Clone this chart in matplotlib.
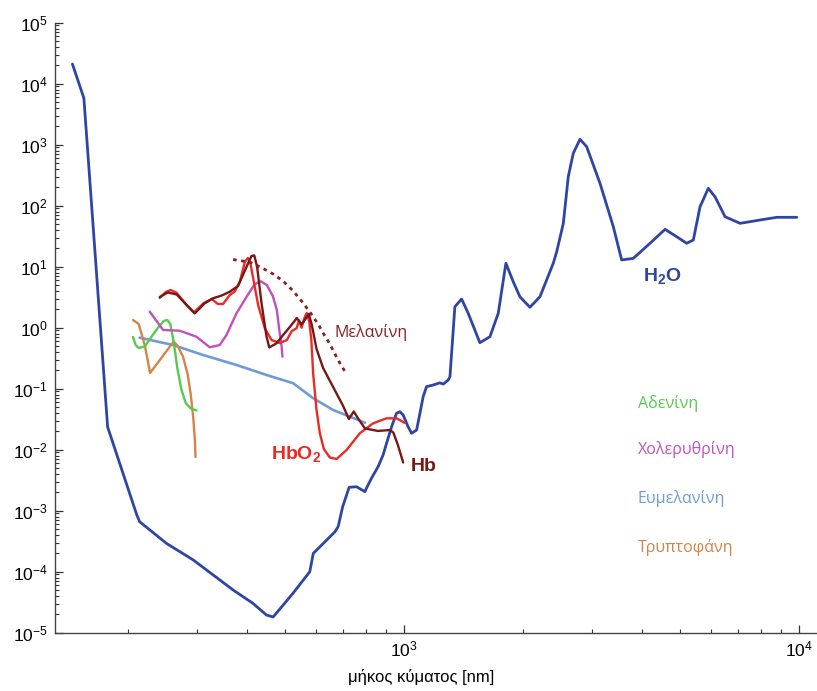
import matplotlib.pyplot as plt
import matplotlib.ticker as ticker

plt.rcParams['font.family'] = ['Liberation Sans', 'DejaVu Sans']
plt.rcParams['mathtext.fontset'] = 'custom'
plt.rcParams['mathtext.rm'] = 'Liberation Sans'
plt.rcParams['mathtext.bf'] = 'Liberation Sans:bold'
plt.rcParams['lines.solid_joinstyle'] = 'round'
plt.rcParams['lines.solid_capstyle'] = 'round'

# wavelength in nm, absorption coefficient (log-log)
water_wl = [145, 155, 178, 211, 214.5, 251, 293, 370, 415, 449, 467, 524, 578, 590,
            669, 682, 700, 727, 759, 797, 804, 828, 861, 886, 904, 931, 958, 977, 996,
            1025, 1046, 1077, 1098, 1119, 1141, 1187, 1233, 1258, 1295, 1308, 1346,
            1400, 1455, 1557, 1651, 1733, 1812, 1891, 1966, 2084, 2210, 2388, 2436,
            2532, 2606, 2683, 2790, 2901, 3135, 3388, 3557, 3806, 4196, 4580, 4902,
            5196, 5400, 5616, 5893, 6128, 6496, 7090, 7966, 8781, 9867]
water_mu = [2.1e4, 5800, 0.0236, 8.5e-4, 6.6e-4, 2.9e-4, 1.56e-4, 5.0e-5, 3.03e-5,
            1.95e-5, 1.81e-5, 4.42e-5, 1.0e-4, 2.0e-4, 4.5e-4, 5.5e-4, 1.16e-3,
            2.42e-3, 2.47e-3, 2.05e-3, 2.33e-3, 3.4e-3, 5.3e-3, 8.2e-3, 0.0127,
            0.0238, 0.0395, 0.042, 0.037, 0.0238, 0.0186, 0.021, 0.0395, 0.074,
            0.108, 0.115, 0.125, 0.119, 0.139, 0.157, 2.21, 2.95, 1.72, 0.568,
            0.711, 1.72, 11.4, 5.68, 3.22, 2.16, 3.22, 11.4, 17.6, 51.4, 299, 723,
            1227, 927, 233, 45.3, 12.9, 13.7, 24.2, 41.0, 31.0, 24.2, 27.4, 96.3,
            193, 140, 66, 51.4, 58.3, 64.5, 64.5]

hbo2_wl = [241.2, 249.8, 257.1, 266.3, 281.8, 294, 311.6, 326.6, 338.2, 348.8, 362.7,
           373.4, 384.5, 395.9, 402.9, 408.8, 415.5, 427.8, 444.8, 462.5, 485.4,
           505.6, 520.6, 535.1, 543.2, 550.8, 561.5, 568, 576.5, 583.3, 589.4,
           601.2, 612.9, 627.3, 649.6, 675.5, 716, 773.8, 836, 904, 958, 1006]
hbo2_mu = [3.07, 3.85, 4.15, 3.71, 2.36, 1.77, 2.54, 2.95, 2.45, 2.45, 3.44, 3.92,
           5.68, 11.9, 13.9, 11.5, 6.53, 2.36, 0.978, 0.629, 0.561, 0.629, 0.883,
           0.978, 1.31, 1.0, 1.50, 1.74, 1.24, 0.629, 0.179, 0.0448, 0.0186, 0.0103,
           0.00745, 0.00704, 0.00989, 0.0186, 0.0271, 0.0327, 0.0327, 0.0274]

hb_wl = [241.2, 252.7, 266.3, 279, 295.8, 313.4, 328.5, 346, 362.7, 380.6, 399.7,
         411.6, 418.3, 425.3, 436.3, 449, 456.4, 476.1, 494.9, 519.6, 535.9, 550.8,
         561.5, 574.8, 584.9, 601.2, 624.8, 662.2, 702.1, 725.6, 747, 764.6, 797,
         859.6, 921.7, 940.6, 966, 996]
hb_mu = [3.19, 3.78, 3.50, 2.54, 1.72, 2.51, 3.03, 3.37, 3.89, 4.83, 9.89, 15.0,
         15.3, 9.89, 2.54, 0.731, 0.474, 0.555, 0.759, 1.11, 1.44, 1.13, 1.34, 1.68,
         1.11, 0.448, 0.218, 0.1066, 0.052, 0.0319, 0.0423, 0.0331, 0.0223, 0.0203,
         0.0210, 0.0191, 0.0119, 0.00617]

melanin_wl = [369.7, 407.5, 440.4, 466.9, 494.9, 524.5, 550.8, 578, 606.7, 631,
              649.6, 675.5, 692.7, 711]
melanin_mu = [13.1, 11.9, 9.34, 7.59, 5.83, 4.0, 2.74, 1.81, 1.15, 0.731, 0.541,
              0.331, 0.245, 0.188]

bilirubin_wl = [227.5, 245.9, 271, 298.7, 322.8, 342, 355.7, 377.1, 399.7, 419.6,
                434.5, 450, 466, 477, 484, 490, 493]
bilirubin_mu = [1.83, 0.917, 0.893, 0.711, 0.477, 0.52, 0.759, 1.72, 3.19, 5.2,
                5.76, 5.01, 3.31, 1.95, 0.917, 0.52, 0.335]

adenine_wl = [206.4, 209.6, 213.3, 221, 229.8, 238.4, 246.9, 252, 256.4, 260.2,
              263.3, 267.1, 273.7, 280.6, 289, 298.7]
adenine_mu = [0.704, 0.52, 0.465, 0.492, 0.711, 0.99, 1.29, 1.34, 1.15, 0.704,
              0.431, 0.218, 0.0952, 0.0583, 0.0474, 0.0439]

eumelanin_wl = [214.5, 260.7, 310.4, 377.1, 449, 524.5, 590, 662, 730, 797]
eumelanin_mu = [0.686, 0.52, 0.357, 0.245, 0.168, 0.123, 0.0696, 0.0448, 0.0348, 0.0277]

tryptophan_wl = [206.4, 213.3, 221, 228, 261.6, 267.7, 276.2, 284, 289, 293, 296, 297]
tryptophan_mu = [1.34, 1.15, 0.52, 0.181, 0.594, 0.501, 0.335, 0.168, 0.0788,
                 0.0348, 0.0144, 0.0076]

c_water = '#2f45a5'
c_hbo2 = '#ec2a25'
c_hb = '#781815'
c_melanin = '#8a1f1f'
c_bili = '#c150bf'
c_aden = '#58c94e'
c_eumel = '#6e9bd6'
c_tryp = '#d4844b'

fig = plt.figure(figsize=(8.17, 6.91), dpi=100)
ax = fig.add_axes([55 / 817, 58.3 / 691, 762 / 817, 610 / 691])

ax.plot(water_wl, water_mu, color=c_water, lw=2.0)
ax.plot(eumelanin_wl, eumelanin_mu, color=c_eumel, lw=1.9)
ax.plot(tryptophan_wl, tryptophan_mu, color=c_tryp, lw=1.7)
ax.plot(adenine_wl, adenine_mu, color=c_aden, lw=1.7)
ax.plot(bilirubin_wl, bilirubin_mu, color=c_bili, lw=1.7)
ax.plot(hbo2_wl, hbo2_mu, color=c_hbo2, lw=1.7)
ax.plot(hb_wl, hb_mu, color=c_hb, lw=1.7)
ax.plot(melanin_wl, melanin_mu, color=c_melanin, lw=2.0, linestyle=(0, (1.3, 1.6)),
        dash_capstyle='butt')

ax.set_xscale('log')
ax.set_yscale('log')
ax.set_xlim(131, 11100)
ax.set_ylim(1e-5, 1e5)

# only left and bottom axis lines
for s in ['top', 'right']:
    ax.spines[s].set_visible(False)
for s in ['left', 'bottom']:
    ax.spines[s].set_color('#444444')
    ax.spines[s].set_linewidth(1.0)

ax.yaxis.set_major_locator(ticker.LogLocator(base=10, numticks=15))
ax.yaxis.set_minor_locator(ticker.LogLocator(base=10, subs=range(2, 10), numticks=15))
ax.yaxis.set_minor_formatter(ticker.NullFormatter())
ax.xaxis.set_minor_formatter(ticker.NullFormatter())
ax.tick_params(which='major', direction='in', length=6, width=0.9, color='#333333',
               labelsize=12.5, pad=5)
ax.tick_params(which='minor', direction='in', length=3.2, width=0.8, color='#333333')

ax.set_xlabel('μήκος κύματος [nm]', fontsize=12)
ax.xaxis.set_label_coords(0.48, -0.06)

ax.text(4500, 6.8, r'H$_\mathbf{2}$O', color=c_water, fontsize=14, fontweight='bold',
        ha='center', va='center')
ax.text(825, 0.82, 'Μελανίνη', color=c_melanin, fontsize=11.5,
        family=['Open Sans', 'DejaVu Sans'], ha='center', va='center')
ax.text(533, 0.0082, r'HbO$_\mathbf{2}$', color=c_hbo2, fontsize=14, fontweight='bold',
        ha='center', va='center')
ax.text(1124, 0.0054, 'Hb', color=c_hb, fontsize=14, fontweight='bold',
        ha='center', va='center')

names = ['Αδενίνη', 'Χολερυθρίνη', 'Ευμελανίνη', 'Τρυπτοφάνη']
name_y = [0.058, 0.0099, 0.0016, 2.54e-4]
name_c = [c_aden, c_bili, c_eumel, c_tryp]
for n, y, c in zip(names, name_y, name_c):
    ax.text(3912, y, n, color=c, fontsize=11.5, family=['Open Sans', 'DejaVu Sans'],
            ha='left', va='center')

plt.savefig('out.png', dpi=100)
